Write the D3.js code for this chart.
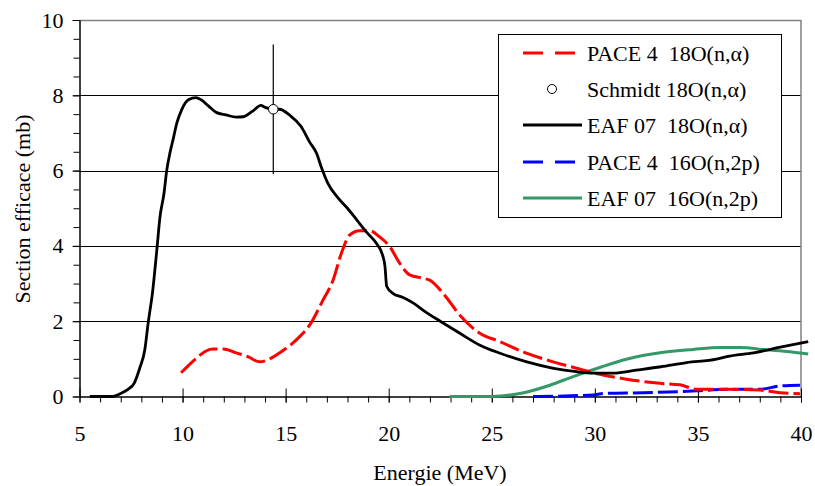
<!DOCTYPE html>
<html>
<head>
<meta charset="utf-8">
<script src="https://cdn.jsdelivr.net/npm/d3@7/dist/d3.min.js"></script>
<style>
  html, body { margin: 0; padding: 0; background: #fff; }
  svg { display: block; }
  text { font-family: "Liberation Serif", "Times New Roman", serif; fill: #000; }
</style>
</head>
<body>
<svg id="chart" width="815" height="486"></svg>
<script>
// ---- data ----
const xTicks = [5, 10, 15, 20, 25, 30, 35, 40];
const yTicks = [0, 2, 4, 6, 8, 10];
const xLabel = "Energie (MeV)";
const yLabel = "Section efficace (mb)";

const legendLabels = ["PACE 4  18O(n,\u03b1)", "Schmidt 18O(n,\u03b1)", "EAF 07  18O(n,\u03b1)", "PACE 4  16O(n,2p)", "EAF 07  16O(n,2p)"];

// PACE 4 18O(n,alpha)
const pace18E = [9.93, 10.66, 11.07, 11.47, 11.96, 12.6, 13.17, 13.74, 14.3, 14.71, 15.03, 15.68, 16.17, 16.81, 17.3, 17.7, 18.11, 18.59, 19.08, 19.56, 20.05, 20.53, 21.02, 21.67, 21.99, 22.64, 23.45, 24.42, 25.39, 26.68, 27.98, 29.11, 30.0, 31.53, 33.16, 34.13, 34.94, 36.39, 38.01, 38.98, 39.95];
const pace18XS = [0.63, 1.01, 1.19, 1.26, 1.26, 1.16, 1.06, 0.92, 1.02, 1.16, 1.28, 1.59, 1.9, 2.56, 3.09, 3.8, 4.29, 4.4, 4.4, 4.24, 3.98, 3.54, 3.23, 3.14, 3.09, 2.74, 2.16, 1.68, 1.46, 1.15, 0.92, 0.75, 0.62, 0.46, 0.35, 0.31, 0.19, 0.19, 0.17, 0.1, 0.07];

// Schmidt 18O(n,alpha) measurement
const schmidtE = [14.4];
const schmidtXS = [7.63];
const schmidtErr = [1.72];

// EAF 07 18O(n,alpha)
const eaf18E = [5.5, 6.6, 7.0, 7.35, 7.65, 7.92, 8.17, 8.33, 8.55, 8.77, 8.9, 9.1, 9.23, 9.4, 9.55, 9.72, 9.96, 10.28, 10.65, 10.9, 11.25, 11.65, 12.1, 12.6, 12.95, 13.4, 13.8, 14.0, 14.4, 14.7, 15.2, 15.75, 16.15, 16.5, 16.75, 17.05, 17.5, 18.0, 18.45, 18.9, 19.4, 19.7, 19.82, 19.9, 20.2, 20.7, 21.2, 21.8, 22.5, 23.45, 24.4, 25.4, 26.7, 28.0, 29.1, 29.9, 30.9, 32.0, 33.2, 34.45, 35.9, 36.4, 37.7, 39.0, 40.35];
const eaf18XS = [0, 0, 0.08, 0.19, 0.35, 0.75, 1.25, 1.95, 2.8, 4.0, 4.75, 5.4, 6.0, 6.5, 6.85, 7.26, 7.62, 7.88, 7.94, 7.88, 7.72, 7.54, 7.48, 7.42, 7.43, 7.58, 7.73, 7.68, 7.63, 7.63, 7.47, 7.17, 6.77, 6.46, 6.06, 5.66, 5.3, 5.0, 4.69, 4.38, 4.07, 3.76, 3.45, 2.93, 2.74, 2.63, 2.48, 2.24, 2.0, 1.68, 1.37, 1.15, 0.92, 0.75, 0.66, 0.62, 0.62, 0.7, 0.79, 0.9, 0.99, 1.06, 1.16, 1.31, 1.46];

// PACE 4 16O(n,2p)
const pace16E = [27.0, 29.92, 30.4, 32.35, 34.94, 36.39, 38.01, 38.98, 39.95];
const pace16XS = [0, 0.04, 0.08, 0.1, 0.15, 0.19, 0.19, 0.28, 0.3];

// EAF 07 16O(n,2p)
const eaf16E = [22.96, 25.0, 26.36, 27.82, 28.95, 30.24, 31.53, 33.16, 34.78, 36.07, 37.04, 38.33, 39.47, 40.35];
const eaf16XS = [0, 0, 0.08, 0.3, 0.53, 0.77, 0.99, 1.16, 1.25, 1.3, 1.3, 1.24, 1.19, 1.13];

// ---- drawing ----
const svg = d3.select("#chart");
const pLeft = 79.5, pRight = 801, pTop = 20, pBottom = 396.5;
const x = d3.scaleLinear().domain([5, 40]).range([pLeft, pRight]);
const y = d3.scaleLinear().domain([0, 10]).range([pBottom, pTop]);
const FS = 22;
const FF = "'Liberation Serif', 'Times New Roman', serif";

// gridlines
svg.append("g").selectAll("line").data(yTicks.filter(d => d > 0 && d < 10)).join("line")
  .attr("x1", pLeft).attr("x2", pRight)
  .attr("y1", d => Math.round(y(d)) + 0.5).attr("y2", d => Math.round(y(d)) + 0.5)
  .attr("stroke", "#000").attr("stroke-width", 1);
// top and right border (gray)
svg.append("line").attr("x1", pLeft).attr("x2", pRight).attr("y1", pTop + 0.5).attr("y2", pTop + 0.5)
  .attr("stroke", "#808080").attr("stroke-width", 1.5);
svg.append("line").attr("x1", pRight).attr("x2", pRight).attr("y1", pTop).attr("y2", pBottom)
  .attr("stroke", "#808080").attr("stroke-width", 1.5);

// y axis minor
svg.append("g").attr("transform", `translate(${pLeft},0)`)
  .call(d3.axisLeft(y).tickValues(d3.range(0, 10.01, 0.5)).tickSize(6).tickSizeOuter(0).tickFormat(""))
  .call(g => g.select(".domain").remove())
  .call(g => g.selectAll("line").attr("stroke", "#000"));
// y axis major
svg.append("g").attr("transform", `translate(${pLeft},0)`)
  .call(d3.axisLeft(y).tickValues(yTicks).tickSize(7).tickSizeOuter(0).tickPadding(9).tickFormat(d3.format("d")))
  .call(g => g.select(".domain").attr("stroke", "#000").attr("stroke-width", 1.5))
  .call(g => g.selectAll("text").attr("font-size", FS).attr("font-family", FF));

// x axis minor
svg.append("g").attr("transform", `translate(0,${pBottom})`)
  .call(d3.axisBottom(x).tickValues(d3.range(5, 40.01, 1)).tickSize(6).tickSizeOuter(0).tickFormat(""))
  .call(g => g.select(".domain").remove());
// x axis major
svg.append("g").attr("transform", `translate(0,${pBottom})`)
  .call(d3.axisBottom(x).tickValues(xTicks).tickSize(6).tickSizeOuter(0).tickPadding(23).tickFormat(d3.format("d")))
  .call(g => g.select(".domain").attr("stroke", "#000").attr("stroke-width", 1.5))
  .call(g => g.selectAll(".tick").append("line").attr("y1", -8).attr("y2", 0).attr("stroke", "#000"))
  .call(g => g.selectAll("text").attr("font-size", FS).attr("font-family", FF));

// axis titles
svg.append("text").attr("x", 440).attr("y", 480).attr("text-anchor", "middle")
  .attr("font-size", FS).attr("font-family", FF).text(xLabel);
svg.append("text").attr("transform", "translate(30,209) rotate(-90)").attr("text-anchor", "middle")
  .attr("font-size", FS).attr("font-family", FF).text(yLabel);

// curves
const line = d3.line().x(d => x(d[0])).y(d => y(d[1])).curve(d3.curveMonotoneX);
const series = [
  { E: eaf16E, V: eaf16XS, color: "#339966", dash: null, w: 3 },
  { E: pace16E, V: pace16XS, color: "#0000ff", dash: "20,5", w: 3 },
  { E: pace18E, V: pace18XS, color: "#ff0000", dash: "20,5", w: 3 },
  { E: eaf18E, V: eaf18XS, color: "#000000", dash: null, w: 2.8 }
];
series.forEach(s => {
  svg.append("path").datum(d3.zip(s.E, s.V))
    .attr("d", line).attr("fill", "none")
    .attr("stroke", s.color).attr("stroke-width", s.w)
    .attr("stroke-linejoin", "round")
    .attr("stroke-dasharray", s.dash);
});

// Schmidt point with error bar
const pts = d3.zip(schmidtE, schmidtXS, schmidtErr);
svg.append("g").selectAll("line").data(pts).join("line")
  .attr("x1", d => x(d[0])).attr("x2", d => x(d[0]))
  .attr("y1", d => y(d[1] + d[2])).attr("y2", d => y(d[1] - d[2]))
  .attr("stroke", "#000").attr("stroke-width", 1.2);
svg.append("g").selectAll("circle").data(pts).join("circle")
  .attr("cx", d => x(d[0])).attr("cy", d => y(d[1])).attr("r", 4.8)
  .attr("fill", "#fff").attr("stroke", "#000").attr("stroke-width", 1);

// legend
const lg = svg.append("g");
lg.append("rect").attr("x", 498.5).attr("y", 34.5).attr("width", 283).attr("height", 183)
  .attr("fill", "#fff").attr("stroke", "#000").attr("stroke-width", 1);
const rowY = [53, 89, 125, 162, 198];
const legStyles = [
  { color: "#ff0000", dash: "20,12", type: "line" },
  { type: "point" },
  { color: "#000000", dash: null, type: "line" },
  { color: "#0000ff", dash: "20,12", type: "line" },
  { color: "#339966", dash: null, type: "line" }
];
legendLabels.forEach((lab, i) => {
  const st = legStyles[i];
  if (st.type === "line") {
    lg.append("line").attr("x1", 523).attr("x2", st.dash ? 576 : 582).attr("y1", rowY[i]).attr("y2", rowY[i])
      .attr("stroke", st.color).attr("stroke-width", 3).attr("stroke-dasharray", st.dash);
  } else {
    lg.append("circle").attr("cx", 552).attr("cy", rowY[i]).attr("r", 4.5)
      .attr("fill", "#fff").attr("stroke", "#000").attr("stroke-width", 1);
  }
  lg.append("text").attr("x", 587).attr("y", rowY[i] + 7.5).attr("font-size", FS)
    .attr("font-family", FF).style("white-space", "pre").text(lab);
});
</script>
</body>
</html>
